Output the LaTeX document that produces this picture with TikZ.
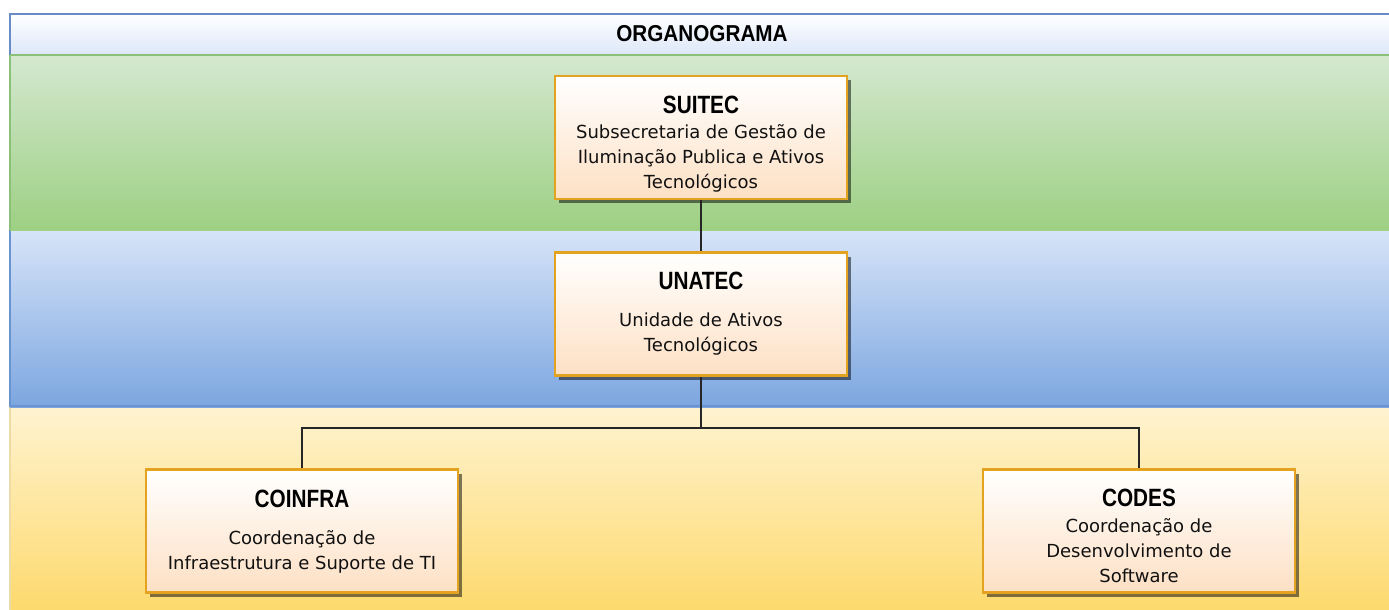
\documentclass[tikz,border=0pt]{standalone}
\usepackage{fontspec}
\setmainfont{DejaVu Sans}
\newfontfamily\hdfont{Liberation Sans}[FakeStretch=0.83]
\newfontfamily\orgfont{Liberation Sans}[FakeStretch=0.9]
\usetikzlibrary{shadows}
\definecolor{bandTitleTop}{HTML}{FFFFFF}
\definecolor{bandTitleBot}{HTML}{DCE7F9}
\definecolor{bandTitleLine}{HTML}{6A8CC6}
\definecolor{greenTop}{HTML}{D4E8CF}
\definecolor{greenBot}{HTML}{9DD083}
\definecolor{greenLine}{HTML}{8BC07A}
\definecolor{blueTop}{HTML}{D7E4F8}
\definecolor{blueBot}{HTML}{7CA6E0}
\definecolor{blueLine}{HTML}{6A94CF}
\definecolor{yelTop}{HTML}{FFF3D0}
\definecolor{yelBot}{HTML}{FDD96B}
\definecolor{yelLine}{HTML}{EADBA8}
\definecolor{boxLine}{HTML}{E3A21F}
\definecolor{boxBot}{HTML}{FDE0C4}
\definecolor{txt}{HTML}{111111}
\tikzset{
  unitbox/.style={draw=boxLine, line width=2.5pt, top color=white, bottom color=boxBot,
    minimum width=#1, minimum height=123pt, inner sep=0pt,
    drop shadow={shadow xshift=4pt, shadow yshift=-4pt, fill=black, opacity=0.5}},
  unittitle/.style={font=\hdfont\bfseries\fontsize{25}{30}\selectfont, text=black, inner sep=0pt},
  unitbody/.style={font=\fontsize{18}{25}\selectfont, text=txt, align=center, inner sep=0pt},
  link/.style={draw=black!85, line width=1.5pt}
}
\begin{document}
\begin{tikzpicture}[x=1pt,y=-1pt]
\useasboundingbox (0,0) rectangle (1389,610);
% bands
\shade[top color=yelTop, bottom color=yelBot] (10,407) rectangle (1395,615);
\draw[yelLine, line width=2pt] (10,615) -- (10,407) -- (1395,407);
\shade[top color=blueTop, bottom color=blueBot] (10,230) rectangle (1395,407);
\draw[blueLine, line width=2pt] (10,407) -- (10,230) -- (1395,230);
\draw[blueLine, line width=1.5pt] (10,406) -- (1395,406);
\shade[top color=greenTop, bottom color=greenBot] (10,55) rectangle (1395,230);
\draw[greenLine, line width=2pt] (10,230) -- (10,55) -- (1395,55);
\shade[top color=bandTitleTop, bottom color=bandTitleBot] (10,14) rectangle (1395,55);
\draw[bandTitleLine, line width=2pt] (10,55) -- (10,14) -- (1395,14);
\draw[greenLine, line width=2pt] (10,55) -- (1395,55);
\node[font=\orgfont\bfseries\fontsize{23}{28}\selectfont, inner sep=0pt] (org) at (702,34) {ORGANOGRAMA};

% boxes
\node[unitbox=292pt] (suitec) at (701,137.5) {};
\node[unitbox=292pt] (unatec) at (701,314) {};
\node[unitbox=312pt] (coinfra) at (302,531) {};
\node[unitbox=312pt] (codes) at (1139,531) {};

% connectors
\coordinate (j) at (701,428);
\draw[link] (suitec.south) -- (unatec.north);
\draw[link] (unatec.south) -- (j);
\draw[link] (coinfra.north) |- (j);
\draw[link] (codes.north) |- (j);

% texts
\node[unittitle] (suitecT) at (701,105) {SUITEC};
\node[unitbody] (suitecB) at (701,158) {Subsecretaria de Gestão de\\Iluminação Publica e Ativos\\Tecnológicos};
\node[unittitle] (unatecT) at (701,281) {UNATEC};
\node[unitbody] (unatecB) at (701,334) {Unidade de Ativos\\Tecnológicos};
\node[unittitle] (coinfraT) at (302,499) {COINFRA};
\node[unitbody] (coinfraB) at (302,552) {Coordenação de\\Infraestrutura e Suporte de TI};
\node[unittitle] (codesT) at (1139,498) {CODES};
\node[unitbody] (codesB) at (1139,551) {Coordenação de\\Desenvolvimento de\\Software};
\end{tikzpicture}
\end{document}
